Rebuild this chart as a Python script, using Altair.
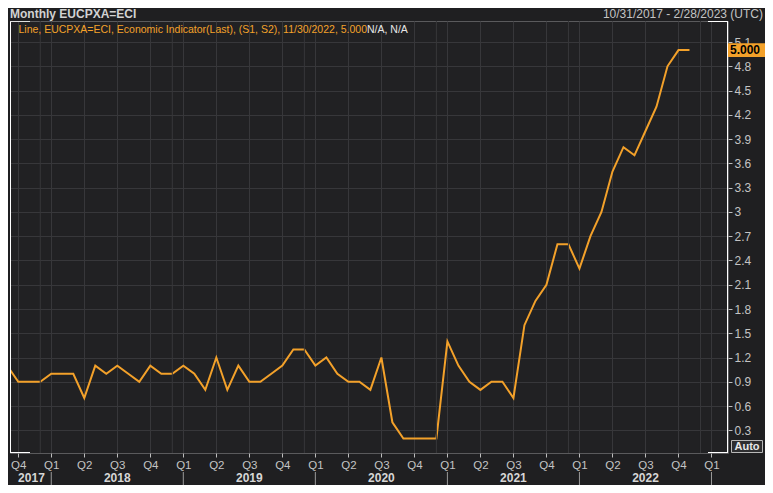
import altair as alt
import pandas as pd

# ---- data (month index 0 = Oct 2017; -1 = Sep 2017, clipped at left edge)
month_idx = list(range(-1, 62))
cpi_values = [
    1.1,                                                            # Sep 2017
    0.9, 0.9, 0.9,                                                  # Oct-Dec 2017
    1.0, 1.0, 1.0, 0.7, 1.1, 1.0, 1.1, 1.0, 0.9, 1.1, 1.0, 1.0,     # 2018
    1.1, 1.0, 0.8, 1.2, 0.8, 1.1, 0.9, 0.9, 1.0, 1.1, 1.3, 1.3,     # 2019
    1.1, 1.2, 1.0, 0.9, 0.9, 0.8, 1.2, 0.4, 0.2, 0.2, 0.2, 0.2,     # 2020
    1.4, 1.1, 0.9, 0.8, 0.9, 0.9, 0.7, 1.6, 1.9, 2.1, 2.6, 2.6,     # 2021
    2.3, 2.7, 3.0, 3.5, 3.8, 3.7, 4.0, 4.3, 4.8, 5.0, 5.0,          # 2022
]
quarter_ticks = list(range(0, 64, 3))
dec_lines = [2, 14, 26, 38, 50, 62]
year_names = ["2017", "2018", "2019", "2020", "2021", "2022"]
year_centers = [1.2, 9, 21, 33, 45, 57]
year_bounds = [3, 15, 27, 39, 51, 63]
y_ticks = [0.3, 0.6, 0.9, 1.2, 1.5, 1.8, 2.1, 2.4, 2.7, 3.0, 3.3, 3.6, 3.9, 4.2, 4.5, 4.8, 5.1]
last_value = 5.0

title_text = "Monthly EUCPXA=ECI"
range_text = "10/31/2017 - 2/28/2023 (UTC)"
legend_text = "Line, EUCPXA=ECI, Economic Indicator(Last), (S1, S2), 11/30/2022, 5.000"
legend_na = "N/A, N/A"

W, H = 718, 432
FONT = "Liberation Sans"
ORANGE = "#f3a12a"
GRID = "#37373a"
LABEL = "#c4c4c4"

df = pd.DataFrame({"idx": month_idx, "val": cpi_values})
one = pd.DataFrame({"a": [0]})

xscale = alt.Scale(domain=[-0.75, 64.5], nice=False, zero=False)
yscale = alt.Scale(domain=[0.02, 5.36], nice=False, zero=False)

xaxis = alt.Axis(values=quarter_ticks, title=None, grid=True, gridColor=GRID,
                 labelExpr="'Q' + (((datum.value / 3) + 3) % 4 + 1)",
                 tickSize=4, tickColor="#bdbdbd", labelPadding=2,
                 labelColor=LABEL, labelFont=FONT, labelFontSize=11.5,
                 domain=False, labelFlush=False)
yaxis = alt.Axis(orient="right", values=y_ticks, format=".1~f", title=None,
                 grid=True, gridColor=GRID, tickSize=4, tickColor="#bdbdbd",
                 labelPadding=2, labelColor=LABEL, labelFont=FONT,
                 labelFontSize=12, domain=False, labelFlush=False)

line = alt.Chart(df).mark_line(color=ORANGE, strokeWidth=2, clip=True).encode(
    x=alt.X("idx:Q", scale=xscale, axis=xaxis),
    y=alt.Y("val:Q", scale=yscale, axis=yaxis),
)

dec = alt.Chart(pd.DataFrame({"idx": dec_lines})).mark_rule(color=GRID, strokeWidth=1).encode(
    x=alt.X("idx:Q", scale=xscale, axis=xaxis)
)


def rule(x, x2, y, y2, color, w=1):
    return alt.Chart(one).mark_rule(color=color, strokeWidth=w).encode(
        x=alt.value(x), x2=alt.value(x2), y=alt.value(y), y2=alt.value(y2))


def text(x, y, t, color, size=12, weight="normal", align="left", baseline="middle"):
    return alt.Chart(one).mark_text(align=align, baseline=baseline, font=FONT, fontSize=size,
                                    fontWeight=weight, color=color).encode(
        x=alt.value(x), y=alt.value(y), text=alt.value(t))


frame = [
    rule(0.5, 0.5, 0, H, "#ffffff"),
    rule(W - 0.5, W - 0.5, 0, H, "#ffffff"),
    rule(0, 20, 0.5, 0.5, "#e0e0e0"),
    rule(W - 20, W, 0.5, 0.5, "#ffffff"),
    rule(0, 20, H - 0.5, H - 0.5, "#ffffff"),
    rule(W - 20, W, H - 0.5, H - 0.5, "#ffffff"),
]

years = alt.Chart(pd.DataFrame({"idx": year_centers, "name": year_names})).mark_text(
    font=FONT, fontSize=12, fontWeight="bold", color="#d6d6d6", baseline="middle"
).encode(x=alt.X("idx:Q", scale=xscale, axis=xaxis), y=alt.value(H + 25), text="name:N")

year_div = alt.Chart(pd.DataFrame({"idx": year_bounds})).mark_rule(color="#9a9a9a").encode(
    x=alt.X("idx:Q", scale=xscale, axis=xaxis), y=alt.value(H + 19), y2=alt.value(H + 32)
)

badge = alt.Chart(one).mark_point(
    shape="M-1,-0.36L1,-0.36L1,0.36L-1,0.36Z", size=38 * 38, filled=True, opacity=1,
    color=ORANGE, strokeWidth=0
).encode(x=alt.value(W + 19), y=alt.Y(datum=last_value, scale=yscale, axis=yaxis))

badge_txt = alt.Chart(one).mark_text(
    align="left", baseline="middle", font=FONT, fontSize=12, fontWeight="bold", color="#000000"
).encode(x=alt.value(W + 2), y=alt.Y(datum=last_value, scale=yscale, axis=yaxis),
         text=alt.value("5.000"))

auto_box = alt.Chart(one).mark_rect(fill="#2e2e30", stroke="#b8b8b8", strokeWidth=1).encode(
    x=alt.value(W + 3.5), x2=alt.value(W + 34.5), y=alt.value(H - 12.5), y2=alt.value(H - 0.5))
auto_txt = text(W + 19, H - 6, "Auto", "#e8e8e8", size=11, weight="bold", align="center")

junction = 357
labels = [
    text(0, -7, title_text, "#d2d2d2", size=12, weight="bold"),
    text(W + 35, -7, range_text, LABEL, size=12, align="right"),
    text(junction, 9, legend_text, ORANGE, size=10.5, align="right"),
    text(junction, 9, legend_na, "#e6e6e6", size=10.5, align="left"),
]

chart = alt.layer(
    line, dec, *frame, year_div, years, badge, badge_txt, auto_box, auto_txt, *labels
).properties(
    width=W, height=H,
    padding={"left": 2, "top": 13, "right": 37, "bottom": 32},
    autosize=alt.AutoSizeParams(type="none"),
).configure(background="#1f1f21").configure_view(fill="#212123", stroke="#5a5a5c", strokeWidth=1)

chart.save("out.html", embed_options={"renderer": "svg", "actions": False})
